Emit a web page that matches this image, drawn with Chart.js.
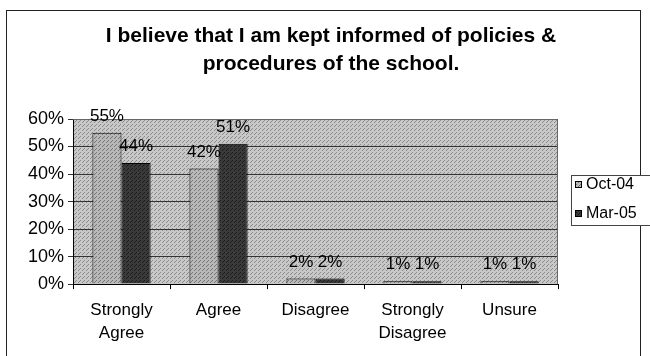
<!DOCTYPE html>
<html>
<head>
<meta charset="utf-8">
<script src="https://cdn.jsdelivr.net/npm/chart.js@4"></script>
<style>
  html, body { margin: 0; padding: 0; background: #fff; }
  #wrap { width: 650px; height: 356px; position: relative; }
</style>
</head>
<body>
<div id="wrap"><canvas id="chart" width="650" height="356"></canvas></div>
<script>
// survey answers, two rounds
const titleLines = ["I believe that I am kept informed of policies &", "procedures of the school."];
const categories = [["Strongly", "Agree"], "Agree", "Disagree", ["Strongly", "Disagree"], "Unsure"];
const seriesNames = ["Oct-04", "Mar-05"];
const oct04 = [55, 42, 2, 1, 1];
const mar05 = [44, 51, 2, 1, 1];
const yTicks = [0, 10, 20, 30, 40, 50, 60];

const FONT = "'Liberation Sans', Arial, sans-serif";

// dithered-looking fill, like the old excel print
function makePattern(base, dots) {
  const c = document.createElement("canvas");
  c.width = 4; c.height = 4;
  const g = c.getContext("2d");
  g.fillStyle = base;
  g.fillRect(0, 0, 4, 4);
  g.fillStyle = dots;
  g.fillRect(0, 0, 1, 1);
  g.fillRect(2, 2, 1, 1);
  g.fillRect(3, 1, 1, 1);
  return g.createPattern(c, "repeat");
}

const ctx = document.getElementById("chart").getContext("2d");
const bgPattern = makePattern("#c8c8c8", "#8a8a8a");
const octPattern = makePattern("#b8b8b8", "#767676");
const marPattern = makePattern("#3a3a3a", "#1c1c1c");

const framePlugin = {
  id: "frame",
  beforeDraw(chart) {
    const c = chart.ctx;
    const a = chart.chartArea;
    c.save();
    c.strokeStyle = "#222";
    c.lineWidth = 1;
    c.strokeRect(6.5, 10.5, 634, 360);
    c.fillStyle = bgPattern;
    c.fillRect(a.left, a.top, a.right - a.left, a.bottom - a.top);
    // title
    c.fillStyle = "#000";
    c.font = "bold 21px " + FONT;
    c.textAlign = "center";
    c.textBaseline = "alphabetic";
    titleLines.forEach((t, i) => c.fillText(t, 331, 42 + i * 28));
    c.restore();
  },
  afterDatasetsDraw(chart) {
    const c = chart.ctx;
    const a = chart.chartArea;
    c.save();
    c.strokeStyle = "#666";
    c.lineWidth = 1;
    c.beginPath();
    c.moveTo(a.left, a.top + 0.5);
    c.lineTo(a.right - 0.5, a.top + 0.5);
    c.lineTo(a.right - 0.5, a.bottom);
    c.stroke();
    c.restore();
  },
  afterDraw(chart) {
    const c = chart.ctx;
    // value labels
    c.save();
    c.font = "17px " + FONT;
    c.fillStyle = "#000";
    c.textAlign = "center";
    c.textBaseline = "alphabetic";
    chart.data.datasets.forEach((ds, i) => {
      chart.getDatasetMeta(i).data.forEach((bar, j) => {
        c.fillText(ds.data[j] + "%", bar.x, bar.y - 12);
      });
    });
    // legend box
    const lx = 571, ly = 175, lw = 82, lh = 50;
    c.fillStyle = "#fff";
    c.fillRect(lx, ly, lw, lh);
    c.strokeStyle = "#444";
    c.strokeRect(lx + 0.5, ly + 0.5, lw, lh);
    c.font = "16px " + FONT;
    c.textAlign = "left";
    c.textBaseline = "middle";
    chart.data.datasets.forEach((ds, i) => {
      const y = ly + 9 + i * 29;
      c.fillStyle = ds.backgroundColor;
      c.fillRect(lx + 4, y - 3, 7, 7);
      c.strokeStyle = "#000";
      c.strokeRect(lx + 4.5, y - 2.5, 6, 6);
      c.fillStyle = "#000";
      c.fillText(ds.label, lx + 15, y + 1);
    });
    c.restore();
  }
};

new Chart(ctx, {
  type: "bar",
  data: {
    labels: categories,
    datasets: [
      {
        label: seriesNames[0],
        data: oct04,
        backgroundColor: octPattern,
        borderColor: "#000",
        borderWidth: 1,
      },
      {
        label: seriesNames[1],
        data: mar05,
        backgroundColor: marPattern,
        borderColor: "#000",
        borderWidth: 1,
      },
    ],
  },
  options: {
    responsive: false,
    animation: false,
    layout: { padding: { left: 24, right: 92, top: 119, bottom: 1 } },
    datasets: {
      bar: { categoryPercentage: 0.6, barPercentage: 1.0 },
    },
    plugins: {
      legend: { display: false },
      tooltip: { enabled: false },
      title: { display: false },
    },
    scales: {
      x: {
        grid: {
          display: true,
          drawOnChartArea: false,
          offset: true,
          tickLength: 5,
          color: "#000",
        },
        border: { color: "#000" },
        ticks: {
          color: "#000",
          font: { family: FONT, size: 17, lineHeight: 1.35 },
          maxRotation: 0,
          padding: 10,
        },
      },
      y: {
        min: 0,
        max: 60,
        afterBuildTicks(axis) {
          axis.ticks = yTicks.map((v) => ({ value: v }));
        },
        grid: { color: "#333", tickLength: 5, lineWidth: 1 },
        border: { color: "#000" },
        ticks: {
          color: "#000",
          font: { family: FONT, size: 18 },
          padding: 4,
          callback: (v) => v + "%",
        },
      },
    },
  },
  plugins: [framePlugin],
});
</script>
</body>
</html>
